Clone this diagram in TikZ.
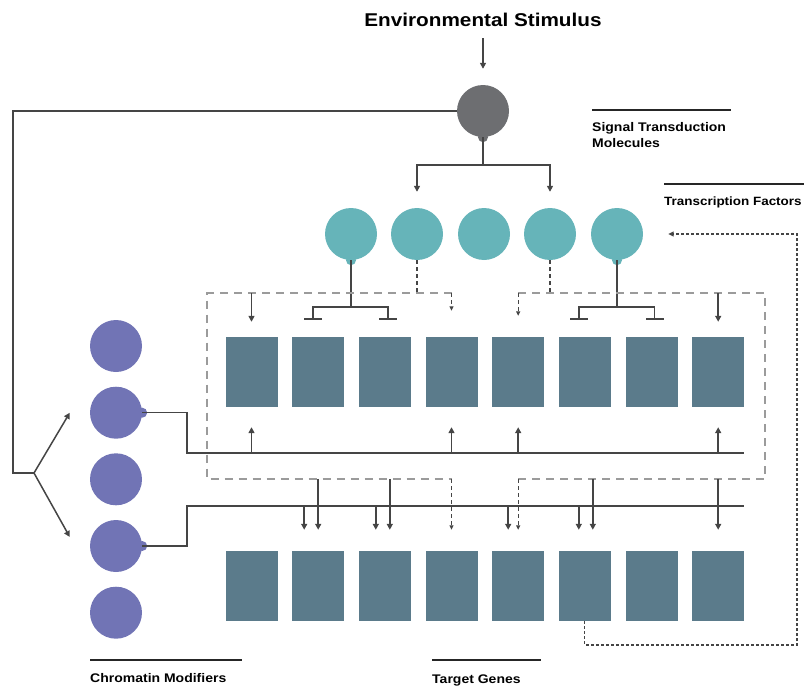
\documentclass[tikz,border=0pt]{standalone}
\usepackage{fontspec}
\setmainfont{Liberation Sans}[FakeStretch=1.12]
\usetikzlibrary{arrows.meta}
\usetikzlibrary{positioning}
\definecolor{sigc}{HTML}{6D6E71}
\definecolor{tfc}{HTML}{66B4B9}
\definecolor{cmc}{HTML}{7174B5}
\definecolor{genec}{HTML}{5B7B8B}
\definecolor{lnc}{HTML}{454545}
\definecolor{boxc}{HTML}{9B9B9B}

\begin{document}
\begin{tikzpicture}[x=1pt,y=-1pt,
  ln/.style={draw=lnc,line width=1.5pt},
  arr/.style={ln,-{Triangle[length=6pt,width=6pt]}},
  inh/.style={ln,-{Bar[width=18pt]}},
  boxd/.style={draw=boxc,line width=1.2pt,dash pattern=on 8pt off 6pt},
  tfd/.style={draw=lnc,line width=1.3pt,dash pattern=on 4pt off 3pt},
  tfarr/.style={tfd,-{Triangle[length=4.5pt,width=4pt]}},
  backd/.style={draw=lnc,line width=1.3pt,dash pattern=on 3pt off 2pt,-{Triangle[length=5.5pt,width=5pt]}},
  ball/.style={circle,minimum size=52pt,inner sep=0pt},
  genebox/.style={rectangle,fill=genec,minimum width=52pt,minimum height=70pt,inner sep=0pt},
  lab/.style={font=\bfseries\fontsize{12.5}{16}\selectfont,inner sep=0pt,align=left},
  labline/.style={draw=black!85,line width=2.5pt}]
\useasboundingbox (0,0) rectangle (804,688);

% stimulus and signal molecule
\node[font=\bfseries\fontsize{18.5}{20}\selectfont,inner sep=0pt,anchor=base] (stim) at (483,26) {Environmental Stimulus};
\node[ball,fill=sigc] (sig) at (483,111) {};
\fill[sigc] (sig.south) circle[radius=5pt];

% transcription factors
\node[ball,fill=tfc] (tf1) at (351,234) {};
\node[ball,fill=tfc] (tf2) at (417,234) {};
\node[ball,fill=tfc] (tf3) at (484,234) {};
\node[ball,fill=tfc] (tf4) at (550,234) {};
\node[ball,fill=tfc] (tf5) at (617,234) {};
\fill[tfc] (tf1.south) circle[radius=5pt];
\fill[tfc] (tf5.south) circle[radius=5pt];

% chromatin modifiers
\node[ball,fill=cmc] (cm1) at (116,346) {};
\node[ball,fill=cmc] (cm2) at (116,412.7) {};
\node[ball,fill=cmc] (cm3) at (116,479.3) {};
\node[ball,fill=cmc] (cm4) at (116,546) {};
\node[ball,fill=cmc] (cm5) at (116,612.7) {};
\fill[cmc] (cm2.east) circle[radius=5pt];
\fill[cmc] (cm4.east) circle[radius=5pt];

% target genes
\node[genebox] (ga1) at (251.5,372) {};
\node[genebox] (ga2) at (318.2,372) {};
\node[genebox] (ga3) at (384.8,372) {};
\node[genebox] (ga4) at (451.5,372) {};
\node[genebox] (ga5) at (518.2,372) {};
\node[genebox] (ga6) at (584.8,372) {};
\node[genebox] (ga7) at (651.5,372) {};
\node[genebox] (ga8) at (718.2,372) {};
\node[genebox] (gb1) at (251.5,586) {};
\node[genebox] (gb2) at (318.2,586) {};
\node[genebox] (gb3) at (384.8,586) {};
\node[genebox] (gb4) at (451.5,586) {};
\node[genebox] (gb5) at (518.2,586) {};
\node[genebox] (gb6) at (584.8,586) {};
\node[genebox] (gb7) at (651.5,586) {};
\node[genebox] (gb8) at (718.2,586) {};

% stimulus -> signal -> factors
\draw[arr,shorten <=12pt] (stim.south) -- ([yshift=16pt]sig.north);
\coordinate (sigj) at (483,165);
\draw[ln] (sig.south) -- (sigj);
\draw[arr] (sigj) -| ([yshift=16pt]tf2.north);
\draw[arr] (sigj) -| ([yshift=16pt]tf4.north);

% signal -> chromatin modifiers
\coordinate (fork) at (34,473);
\draw[ln] (sig.west) -| ([xshift=-21pt]fork) -- (fork);
\draw[arr] (fork) -- ([xshift=-20pt]cm2.west);
\draw[arr] (fork) -- ([xshift=-20pt,yshift=9pt]cm4.west);

% repression by tf1 and tf5
\coordinate (ja) at (351,307);
\draw[ln] (tf1.south) -- (ja);
\draw[inh] (ja) -| ([xshift=-5pt,yshift=17pt]ga2.north);
\draw[inh] (ja) -| ([xshift=3pt,yshift=17pt]ga3.north);
\coordinate (jb) at (617,307);
\draw[ln] (tf5.south) -- (jb);
\draw[inh] (jb) -| ([xshift=-6pt,yshift=17pt]ga6.north);
\draw[inh] (jb) -| ([xshift=3pt,yshift=17pt]ga7.north);

% dashed groups
\coordinate (la) at (451.5,293);
\coordinate (lb) at (207,293);
\coordinate (lc) at (207,479);
\coordinate (ld) at (451.5,479);
\draw[boxd] (la) -- (lb) -- (lc) -- (ld);
\draw[tfd] (tf2.south) -- (tf2.south |- la);
\draw[tfarr] (la) -- ([yshift=26pt]ga4.north);
\draw[tfarr] (ld) -- ([yshift=21pt]gb4.north);
\coordinate (ra) at (518.2,293);
\coordinate (rb) at (765,293);
\coordinate (rc) at (765,479);
\coordinate (rd) at (518.2,479);
\draw[boxd] (ra) -- (rb) -- (rc) -- (rd);
\draw[tfd] (tf4.south) -- (tf4.south |- ra);
\draw[tfarr] (ra) -- ([yshift=21pt]ga5.north);
\draw[tfarr] (rd) -- ([yshift=21pt]gb5.north);
\draw[arr] (ga1.north |- lb) -- ([yshift=15pt]ga1.north);
\draw[arr] (ga8.north |- rb) -- ([yshift=15pt]ga8.north);

% modifier bars
\coordinate (ua) at (187,453);
\draw[ln] (cm2.east) -| (ua) -- (ga8.east |- ua);
\draw[arr] (ga1.south |- ua) -- ([yshift=-20pt]ga1.south);
\draw[arr] (ga4.south |- ua) -- ([yshift=-20pt]ga4.south);
\draw[arr] (ga5.south |- ua) -- ([yshift=-20pt]ga5.south);
\draw[arr] (ga8.south |- ua) -- ([yshift=-20pt]ga8.south);
\coordinate (va) at (187,506);
\draw[ln] (cm4.east) -| (va) -- (gb8.east |- va);
\draw[arr] ([xshift=-14pt,yshift=45pt]gb2.north) -- ([xshift=-14pt,yshift=21pt]gb2.north);
\draw[arr] ([xshift=-9pt,yshift=45pt]gb3.north) -- ([xshift=-9pt,yshift=21pt]gb3.north);
\draw[arr] ([xshift=-10pt,yshift=45pt]gb5.north) -- ([xshift=-10pt,yshift=21pt]gb5.north);
\draw[arr] ([xshift=-6pt,yshift=45pt]gb6.north) -- ([xshift=-6pt,yshift=21pt]gb6.north);
\draw[arr] ([yshift=72pt]gb2.north) -- ([yshift=21pt]gb2.north);
\draw[arr] ([xshift=5pt,yshift=72pt]gb3.north) -- ([xshift=5pt,yshift=21pt]gb3.north);
\draw[arr] ([xshift=8pt,yshift=72pt]gb6.north) -- ([xshift=8pt,yshift=21pt]gb6.north);
\draw[arr] ([yshift=72pt]gb8.north) -- ([yshift=21pt]gb8.north);

% feedback to factors
\coordinate (fb) at (797,645);
\draw[backd] (gb6.south) |- (fb) |- ([xshift=25pt]tf5.east);

% labels
\draw[labline] (592,110) -- (731,110);
\node[lab,anchor=north west] (stmlab) at (592,122) {Signal Transduction\\Molecules};
\draw[labline] (664,184) -- (804,184);
\node[lab,anchor=base west,font=\bfseries\fontsize{12}{16}\selectfont] (tflab) at (664,205) {Transcription Factors};
\draw[labline] (90,660) -- (242,660);
\node[lab,anchor=base west] (cmlab) at (90,682) {Chromatin Modifiers};
\draw[labline] (432,660) -- (541,660);
\node[lab,anchor=base west] (tglab) at (432,683) {Target Genes};

\end{tikzpicture}
\end{document}
